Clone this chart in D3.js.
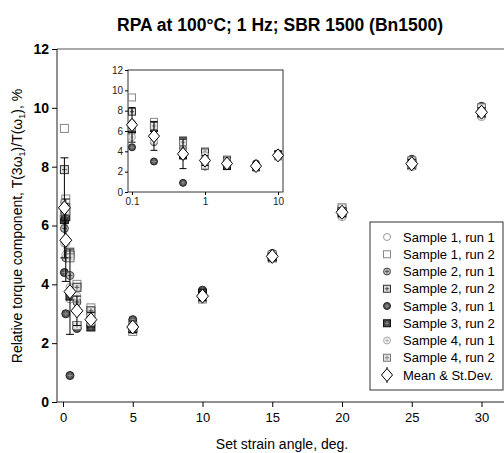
<!DOCTYPE html>
<html>
<head>
<meta charset="utf-8">
<script src="https://cdn.jsdelivr.net/npm/d3@7"></script>
<style>
  body { margin: 0; background: #fff; }
  text { font-family: "Liberation Sans", Arial, sans-serif; }
</style>
</head>
<body>
<div id="chart"></div>
<script>
// set strain angles, deg
var strain = [0.1, 0.2, 0.5, 1, 2, 5, 10, 15, 20, 25, 30];

// relative torque component T(3w1)/T(w1), % for each sample / run
var s1r1 = [6.8, 5.4, 3.5, 3.5, 2.9, 2.6, 3.5, 4.9, 6.3, 8.0, 9.7];
var s1r2 = [9.3, 6.9, 5.1, 4.0, 3.2, 2.4, 3.5, 4.95, 6.4, 8.1, 9.8];
var s2r1 = [5.9, 4.9, 4.3, 3.4, 2.8, 2.7, 3.7, 5.0, 6.5, 8.2, 9.9];
var s2r2 = [7.9, 6.6, 5.0, 3.9, 3.1, 2.5, 3.6, 4.9, 6.45, 8.05, 9.85];
var s3r1 = [4.4, 3.0, 0.9, 2.5, 2.6, 2.8, 3.8, 5.05, 6.55, 8.25, 10.05];
var s3r2 = [6.2, 6.3, 3.6, 2.6, 2.55, 2.5, 3.7, 4.95, 6.5, 8.15, 9.95];
var s4r1 = [5.4, 5.0, 3.9, 3.6, 2.7, 2.65, 3.6, 4.95, 6.4, 8.0, 9.8];
var s4r2 = [6.4, 6.5, 4.9, 2.6, 2.9, 2.55, 3.55, 5.0, 6.6, 8.2, 10.0];

// mean and standard deviation
var meanVals = [6.6, 5.5, 3.75, 3.1, 2.8, 2.55, 3.6, 4.95, 6.45, 8.1, 9.85];
var sdVals   = [1.7, 1.4, 1.45, 0.5, 0.25, 0.2, 0.15, 0.1, 0.15, 0.15, 0.15];

var seriesNames = ["Sample 1, run 1", "Sample 1, run 2", "Sample 2, run 1", "Sample 2, run 2",
                   "Sample 3, run 1", "Sample 3, run 2", "Sample 4, run 1", "Sample 4, run 2"];
var seriesVals = [s1r1, s1r2, s2r1, s2r2, s3r1, s3r2, s4r1, s4r2];

var xTicks = [0, 5, 10, 15, 20, 25, 30];
var yTicks = [0, 2, 4, 6, 8, 10, 12];
var insetXTicks = [0.1, 1, 10];

// marker looks per series
var styles = [
    {shape: "circle", fill: "#fff", stroke: "#999", cross: false},
    {shape: "square", fill: "#fff", stroke: "#888", cross: false},
    {shape: "circle", fill: "#bbb", stroke: "#444", cross: true},
    {shape: "square", fill: "#ddd", stroke: "#333", cross: true},
    {shape: "circle", fill: "#555", stroke: "#222", cross: true},
    {shape: "square", fill: "#444", stroke: "#111", cross: true},
    {shape: "circle", fill: "#f2f2f2", stroke: "#aaa", cross: true},
    {shape: "square", fill: "#e4e4e4", stroke: "#777", cross: true}
];

function drawMarker(g, st, cx, cy, r) {
    if (st.shape === "circle") {
        g.append("circle").attr("cx", cx).attr("cy", cy).attr("r", r)
            .attr("fill", st.fill).attr("stroke", st.stroke).attr("stroke-width", 1);
    } else {
        g.append("rect").attr("x", cx - r).attr("y", cy - r)
            .attr("width", 2 * r).attr("height", 2 * r)
            .attr("fill", st.fill).attr("stroke", st.stroke).attr("stroke-width", 1);
    }
    if (st.cross) {
        var c = r * 0.6;
        g.append("path")
            .attr("d", "M" + (cx - c) + "," + cy + "H" + (cx + c) + "M" + cx + "," + (cy - c) + "V" + (cy + c))
            .attr("stroke", st.fill === "#555" || st.fill === "#444" ? "#999" : st.stroke)
            .attr("stroke-width", 0.8);
    }
}

function drawDiamond(g, cx, cy, r) {
    g.append("path")
        .attr("d", "M" + cx + "," + (cy - r) + "L" + (cx + r * 0.85) + "," + cy +
                   "L" + cx + "," + (cy + r) + "L" + (cx - r * 0.85) + "," + cy + "Z")
        .attr("fill", "#fff").attr("stroke", "#000").attr("stroke-width", 1);
}

function drawPoints(g, xScale, yScale, idx, r, dr, cap) {
    idx.forEach(function(i) {
        var px = xScale(strain[i]);
        seriesVals.forEach(function(vals, k) {
            drawMarker(g, styles[k], px, yScale(vals[i]), r);
        });
    });
    idx.forEach(function(i) {
        var px = xScale(strain[i]);
        var lo = yScale(meanVals[i] - sdVals[i]), hi = yScale(meanVals[i] + sdVals[i]);
        g.append("line").attr("x1", px).attr("x2", px).attr("y1", lo).attr("y2", hi)
            .attr("stroke", "#000").attr("stroke-width", 1);
        [lo, hi].forEach(function(yy) {
            g.append("line").attr("x1", px - cap).attr("x2", px + cap).attr("y1", yy).attr("y2", yy)
                .attr("stroke", "#000").attr("stroke-width", 1);
        });
    });
    idx.forEach(function(i) {
        drawDiamond(g, xScale(strain[i]), yScale(meanVals[i]), dr);
    });
}

function init() {
    var w = 504, h = 453;
    var svg = d3.select("#chart").append("svg").attr("width", w).attr("height", h);

    // main plot area
    var pLeft = 57, pRight = 505, pTop = 49, pBottom = 402;
    var xScale = d3.scaleLinear().domain([0, 30]).range([63, 481.5]);
    var yScale = d3.scaleLinear().domain([0, 12]).range([pBottom, pTop]);

    // title
    svg.append("text").attr("x", 280).attr("y", 31).attr("text-anchor", "middle")
        .attr("font-size", "17.5px").attr("font-weight", "bold").text("RPA at 100°C; 1 Hz; SBR 1500 (Bn1500)");

    // frame top line
    svg.append("line").attr("x1", pLeft).attr("x2", pRight).attr("y1", pTop).attr("y2", pTop)
        .attr("stroke", "#555").attr("stroke-width", 1);

    // axes
    var xAxis = d3.axisBottom(xScale).tickValues(xTicks).tickSize(5).tickPadding(6);
    var gx = svg.append("g").attr("transform", "translate(0," + pBottom + ")").call(xAxis);
    gx.select(".domain").attr("d", "M" + pLeft + ",0H" + pRight).attr("stroke", "#222");
    gx.selectAll("text").attr("font-size", "13px").attr("fill", "#000");

    var yAxis = d3.axisLeft(yScale).tickValues(yTicks).tickSize(5).tickPadding(3);
    var gy = svg.append("g").attr("transform", "translate(" + pLeft + ",0)").call(yAxis);
    gy.select(".domain").attr("d", "M0," + pBottom + "V" + pTop).attr("stroke", "#222");
    gy.selectAll("text").attr("font-size", "14px").attr("font-weight", "bold").attr("fill", "#000");

    // axis titles
    svg.append("text").attr("x", 282).attr("y", 449).attr("text-anchor", "middle")
        .attr("font-size", "14px").text("Set strain angle, deg.");

    var yt = svg.append("text").attr("transform", "translate(22,226) rotate(-90)")
        .attr("text-anchor", "middle").attr("font-size", "14px");
    yt.append("tspan").text("Relative torque component, T(3ω");
    yt.append("tspan").attr("font-size", "9px").attr("dy", 3).text("1");
    yt.append("tspan").attr("dy", -3).text(")/T(ω");
    yt.append("tspan").attr("font-size", "9px").attr("dy", 3).text("1");
    yt.append("tspan").attr("dy", -3).text("), %");

    // main data
    var allIdx = d3.range(strain.length);
    drawPoints(svg.append("g"), xScale, yScale, allIdx, 4, 7, 4);

    // inset
    var ix0 = 128, ix1 = 283, iy0 = 70, iy1 = 192;
    var ixScale = d3.scaleLog().domain([0.1, 10]).range([132, 278]);
    var iyScale = d3.scaleLinear().domain([0, 12]).range([iy1, iy0]);
    var inset = svg.append("g");
    inset.append("rect").attr("x", ix0).attr("y", iy0).attr("width", ix1 - ix0).attr("height", iy1 - iy0)
        .attr("fill", "#fff").attr("stroke", "#333").attr("stroke-width", 1);

    var iyAxis = d3.axisLeft(iyScale).tickValues(yTicks).tickSize(3).tickPadding(2);
    var giy = inset.append("g").attr("transform", "translate(" + ix0 + ",0)").call(iyAxis);
    giy.select(".domain").remove();
    giy.selectAll("text").attr("font-size", "10px").attr("fill", "#222");

    var ixAxis = d3.axisBottom(ixScale).tickValues(insetXTicks).tickFormat(d3.format("")).tickSize(3).tickPadding(3);
    var gix = inset.append("g").attr("transform", "translate(0," + iy1 + ")").call(ixAxis);
    gix.select(".domain").remove();
    gix.selectAll("text").attr("font-size", "10px").attr("fill", "#222");

    var insetIdx = allIdx.filter(function(i) { return strain[i] <= 10; });
    drawPoints(inset.append("g"), ixScale, iyScale, insetIdx, 3.5, 6.5, 3.5);

    // legend
    var lg = svg.append("g");
    lg.append("rect").attr("x", 370).attr("y", 222).attr("width", 133).attr("height", 168)
        .attr("fill", "#fff").attr("stroke", "#333").attr("stroke-width", 1);
    var rowY = d3.scaleLinear().domain([0, 8]).range([237, 375]);
    seriesNames.forEach(function(name, k) {
        var yy = rowY(k);
        drawMarker(lg, styles[k], 387, yy, 3.5);
        lg.append("text").attr("x", 403).attr("y", yy + 4.5).attr("font-size", "13px").text(name);
    });
    lg.append("line").attr("x1", 387).attr("x2", 387).attr("y1", rowY(8) - 8).attr("y2", rowY(8) + 8)
        .attr("stroke", "#000");
    drawDiamond(lg, 387, rowY(8), 6.5);
    lg.append("text").attr("x", 403).attr("y", rowY(8) + 4.5).attr("font-size", "13px").text("Mean & St.Dev.");
}
window.onload = init;
</script>
</body>
</html>
